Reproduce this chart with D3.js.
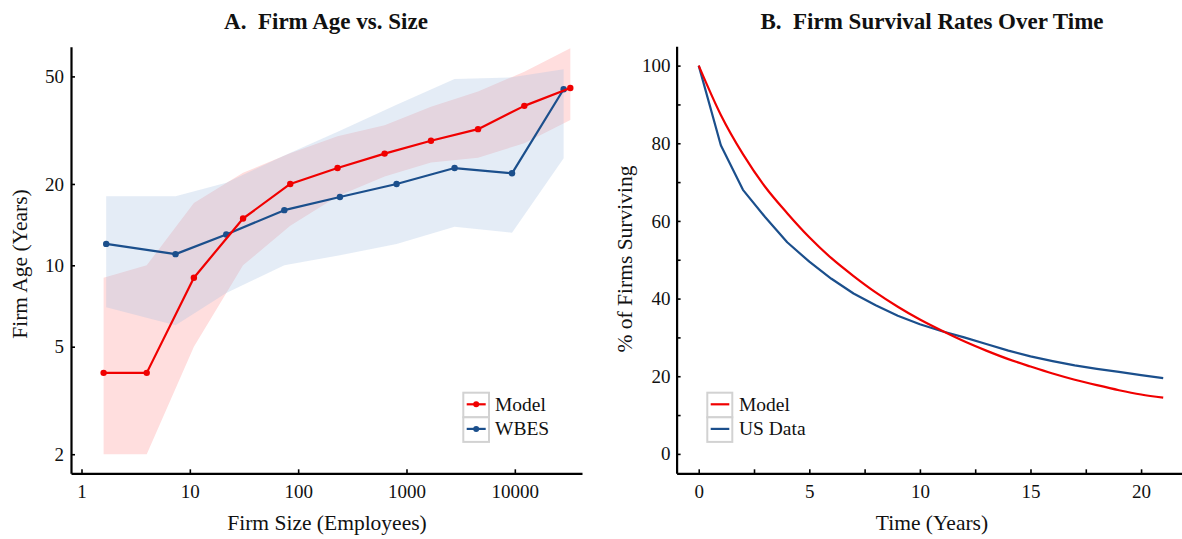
<!DOCTYPE html>
<html>
<head>
<meta charset="utf-8">
<script src="https://cdn.jsdelivr.net/npm/d3@7"></script>
<style>
  html, body { margin: 0; padding: 0; background: #fff; }
  svg text { font-family: "Liberation Serif", "Times New Roman", serif; fill: #111; white-space: pre; }
</style>
</head>
<body>
<svg id="chart" width="1182" height="539"></svg>
<script>
// ---------- Panel A data ----------
const modelSize = [1.6, 4.0, 10.9, 31, 84.5, 231, 628, 1683, 4575, 12240, 32540];
const modelAge  = [4.0, 4.0, 9.0, 14.9, 20.0, 22.9, 25.9, 28.9, 31.9, 38.9, 45.3];
const modelLo   = [2.0, 2.0, 5.0, 10.0, 14.0, 18.0, 21.3, 24.0, 25.0, 28.3, 34.5];
const modelHi   = [9.0, 10.0, 17.0, 22.0, 26.0, 30.0, 33.0, 38.6, 44.0, 52.0, 63.5];

const wbesSize = [1.69, 7.38, 21.7, 74.5, 243, 810, 2780, 9420, 28230];
const wbesAge  = [12.0, 11.0, 13.0, 16.0, 17.9, 20.0, 22.9, 21.9, 44.8];
const wbesLo   = [7.0, 6.0, 7.9, 10.0, 10.9, 12.0, 13.9, 13.2, 24.9];
const wbesHi   = [18.0, 18.0, 20.2, 25.5, 31.5, 39.3, 48.9, 49.6, 53.2];

const sizeTicks = [1, 10, 100, 1000, 10000];
const ageTicks  = [2, 5, 10, 20, 50];
const legendA   = ["Model", "WBES"];

// ---------- Panel B data ----------
const years       = [0,1,2,3,4,5,6,7,8,9,10,11,12,13,14,15,16,17,18,19,20,21];
const modelSurv   = [100, 87.3, 77.2, 68.8, 62.0, 55.8, 50.4, 45.8, 41.6, 37.9, 34.6, 31.7, 29.0, 26.6, 24.4, 22.5, 20.7, 19.1, 17.7, 16.4, 15.3, 14.5];
const usSurv      = [100, 79.5, 68.0, 61.0, 54.5, 49.5, 45.1, 41.3, 38.3, 35.6, 33.4, 31.6, 30.0, 28.3, 26.6, 25.1, 23.9, 22.8, 21.9, 21.1, 20.3, 19.5];
const timeTicks   = [0, 2.5, 5, 7.5, 10, 12.5, 15, 17.5, 20];
const timeLabels  = [0, 5, 10, 15, 20];
const pctTicks    = [0, 10, 20, 30, 40, 50, 60, 70, 80, 90, 100];
const pctLabels   = [0, 20, 40, 60, 80, 100];
const legendB     = ["Model", "US Data"];

const RED = "#f00000";
const BLUE = "#1b4f8c";
const FONT = '"Liberation Serif", "Times New Roman", serif';

const svg = d3.select("#chart");

function styleAxis(g) {
  g.select(".domain").attr("stroke", "#000").attr("stroke-width", 2.2);
  g.selectAll(".tick line").attr("stroke", "#000").attr("stroke-width", 1.6);
  g.selectAll(".tick text").style("font-size", "19px").attr("fill", "#111")
    .style("font-family", FONT);
}

// =============== Panel A ===============
const xA = d3.scaleLog().domain([0.8, 41700]).range([71, 582]);
const yA = d3.scaleLog().domain([1.70, 64.4]).range([473.3, 46.7]);

const gA = svg.append("g");

const bandModel = modelSize.map((s, i) => ({x: s, lo: modelLo[i], hi: modelHi[i]}));
const bandWbes  = wbesSize.map((s, i) => ({x: s, lo: wbesLo[i], hi: wbesHi[i]}));
const areaA = d3.area().x(d => xA(d.x)).y0(d => yA(d.lo)).y1(d => yA(d.hi));

gA.append("path").datum(bandModel).attr("d", areaA).attr("fill", "rgb(255,222,222)");
gA.append("path").datum(bandWbes).attr("d", areaA).attr("fill", "rgb(165,192,225)").attr("fill-opacity", 0.3);

const ptsModel = modelSize.map((s, i) => [s, modelAge[i]]);
const ptsWbes  = wbesSize.map((s, i) => [s, wbesAge[i]]);
const lineA = d3.line().x(d => xA(d[0])).y(d => yA(d[1]));

function drawSeriesA(pts, color) {
  gA.append("path").datum(pts).attr("d", lineA).attr("fill", "none")
    .attr("stroke", color).attr("stroke-width", 2.2).attr("stroke-linejoin", "round");
  gA.selectAll(null).data(pts).enter().append("circle")
    .attr("cx", d => xA(d[0])).attr("cy", d => yA(d[1])).attr("r", 3.2).attr("fill", color);
}
drawSeriesA(ptsWbes, BLUE);
drawSeriesA(ptsModel, RED);

const axAx = gA.append("g").attr("transform", "translate(0,473.3)")
  .call(d3.axisBottom(xA).tickValues(sizeTicks).tickFormat(d3.format("d"))
        .tickSizeInner(-4).tickSizeOuter(0).tickPadding(11));
styleAxis(axAx);
const axAy = gA.append("g").attr("transform", "translate(71,0)")
  .call(d3.axisLeft(yA).tickValues(ageTicks).tickFormat(d3.format("d"))
        .tickSizeInner(-4).tickSizeOuter(0).tickPadding(7));
styleAxis(axAy);

gA.append("text").attr("x", 326).attr("y", 29).attr("text-anchor", "middle")
  .style("font-size", "23px").style("font-weight", "bold").text("A.  Firm Age vs. Size");
gA.append("text").attr("x", 327).attr("y", 530).attr("text-anchor", "middle")
  .style("font-size", "21.5px").text("Firm Size (Employees)");
gA.append("text").attr("transform", "translate(27,264) rotate(-90)").attr("text-anchor", "middle")
  .style("font-size", "21.5px").text("Firm Age (Years)");

// legend A
const legA = gA.append("g").attr("transform", "translate(463.3,392.7)");
const legColorsA = [RED, BLUE];
legendA.forEach((name, i) => {
  const row = legA.append("g").attr("transform", `translate(0,${i * 24.6})`);
  row.append("rect").attr("x", 0).attr("y", 0).attr("width", 25.7).attr("height", 24.6)
    .attr("fill", "#fff").attr("stroke", "#d2d2d2").attr("stroke-width", 2);
  row.append("line").attr("x1", 3.4).attr("x2", 22.4).attr("y1", 11.6).attr("y2", 11.6)
    .attr("stroke", legColorsA[i]).attr("stroke-width", 2.2);
  row.append("circle").attr("cx", 12.9).attr("cy", 11.6).attr("r", 3).attr("fill", legColorsA[i]);
  row.append("text").attr("x", 31.7).attr("y", 18).style("font-size", "19.5px").text(name);
});

// =============== Panel B ===============
const xB = d3.scaleLinear().domain([-1, 21.85]).range([676.6, 1182]);
const yB = d3.scaleLinear().domain([-5, 105]).range([473.3, 46.2]);
const gB = svg.append("g");

const lineBlin = d3.line().x(d => xB(d[0])).y(d => yB(d[1]));
const lineBsm = d3.line().x(d => xB(d[0])).y(d => yB(d[1])).curve(d3.curveMonotoneX);
gB.append("path").datum(years.map((t, i) => [t, usSurv[i]])).attr("d", lineBlin)
  .attr("fill", "none").attr("stroke", BLUE).attr("stroke-width", 2.2).attr("stroke-linejoin", "round");
gB.append("path").datum(years.map((t, i) => [t, modelSurv[i]])).attr("d", lineBsm)
  .attr("fill", "none").attr("stroke", RED).attr("stroke-width", 2.2);

const axBx = gB.append("g").attr("transform", "translate(0,473.3)")
  .call(d3.axisBottom(xB).tickValues(timeTicks)
        .tickFormat(d => timeLabels.includes(d) ? d3.format("d")(d) : "")
        .tickSizeInner(-4).tickSizeOuter(0).tickPadding(11));
styleAxis(axBx);
const axBy = gB.append("g").attr("transform", "translate(676.6,0)")
  .call(d3.axisLeft(yB).tickValues(pctTicks)
        .tickFormat(d => pctLabels.includes(d) ? d3.format("d")(d) : "")
        .tickSizeInner(-4).tickSizeOuter(0).tickPadding(6));
styleAxis(axBy);

gB.append("text").attr("x", 932).attr("y", 29).attr("text-anchor", "middle")
  .style("font-size", "23px").style("font-weight", "bold").text("B.  Firm Survival Rates Over Time");
gB.append("text").attr("x", 932).attr("y", 530).attr("text-anchor", "middle")
  .style("font-size", "21.5px").text("Time (Years)");
gB.append("text").attr("transform", "translate(632,259) rotate(-90)").attr("text-anchor", "middle")
  .style("font-size", "21.5px").text("% of Firms Surviving");

const legB = gB.append("g").attr("transform", "translate(707.3,392.7)");
const legColorsB = [RED, BLUE];
legendB.forEach((name, i) => {
  const row = legB.append("g").attr("transform", `translate(0,${i * 24.6})`);
  row.append("rect").attr("x", 0).attr("y", 0).attr("width", 25).attr("height", 24.6)
    .attr("fill", "#fff").attr("stroke", "#d2d2d2").attr("stroke-width", 2);
  row.append("line").attr("x1", 3.4).attr("x2", 22).attr("y1", 11.6).attr("y2", 11.6)
    .attr("stroke", legColorsB[i]).attr("stroke-width", 2.2);
  row.append("text").attr("x", 31.7).attr("y", 18).style("font-size", "19.5px").text(name);
});
</script>
</body>
</html>
